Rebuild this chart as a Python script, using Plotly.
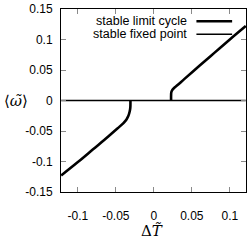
import plotly.graph_objects as go

# Stable limit cycle, left branch
lc_left_x = [-0.122, -0.10, -0.08, -0.06, -0.048, -0.040, -0.036, -0.0335, -0.0318, -0.0310, -0.0308, -0.0308]
lc_left_y = [-0.123, -0.101, -0.080, -0.059, -0.046, -0.037, -0.031, -0.025, -0.018, -0.012, -0.006, 0.0]
# Stable limit cycle, right branch
lc_right_x = [0.0227, 0.0227, 0.0230, 0.0245, 0.0270, 0.0300, 0.040, 0.060, 0.080, 0.100, 0.121]
lc_right_y = [0.0, 0.008, 0.0135, 0.0175, 0.0210, 0.0240, 0.0350, 0.0570, 0.0785, 0.1000, 0.1220]
# Stable fixed point
fp_x = [-0.122, 0.121]
fp_y = [0.0, 0.0]

x_ticks = [-0.1, -0.05, 0, 0.05, 0.1]
x_labels = ["-0.1", "-0.05", "0", "0.05", "0.1"]
y_ticks = [-0.15, -0.1, -0.05, 0, 0.05, 0.1, 0.15]
y_labels = ["-0.15", "-0.1", "-0.05", "0", "0.05", "0.1", "0.15"]

legend_names = ["stable limit cycle", "stable fixed point"]

fig = go.Figure()
fig.add_trace(go.Scatter(x=fp_x, y=fp_y, mode="lines",
                         line=dict(color="black", width=1.5), showlegend=False))
fig.add_trace(go.Scatter(x=lc_left_x, y=lc_left_y, mode="lines", line_shape="spline",
                         line=dict(color="black", width=2.6), showlegend=False))
fig.add_trace(go.Scatter(x=lc_right_x, y=lc_right_y, mode="lines", line_shape="spline",
                         line=dict(color="black", width=2.6), showlegend=False))

axis_common = dict(showgrid=False, zeroline=False, showline=True, linecolor="black",
                   linewidth=1, mirror="allticks", ticks="inside", ticklen=5,
                   tickcolor="#8a8a8a", tickwidth=1,
                   tickfont=dict(family="Liberation Sans, Arial, sans-serif", size=12, color="black"))

fig.update_xaxes(range=[-0.1222, 0.1213], tickvals=x_ticks, ticktext=x_labels,
                 ticklabelstandoff=13, **axis_common)
fig.update_yaxes(range=[-0.15, 0.15], tickvals=y_ticks, ticktext=y_labels,
                 ticklabelstandoff=5, **axis_common)

annotations = [
    dict(text="⟨<i>ω̃</i>⟩", xref="paper", yref="paper", x=-0.245, y=0.5,
         xanchor="center", yanchor="middle", showarrow=False,
         font=dict(family="DejaVu Serif, serif", size=15, color="black")),
    dict(text="Δ<i>T̃</i>", xref="paper", yref="paper", x=0.49, y=-0.211,
         xanchor="center", yanchor="middle", showarrow=False,
         font=dict(family="DejaVu Serif, serif", size=15, color="black")),
    dict(text=legend_names[0], xref="paper", yref="paper", x=0.694, y=0.935,
         xanchor="right", yanchor="middle", showarrow=False,
         font=dict(family="Liberation Sans, Arial, sans-serif", size=12.5, color="black")),
    dict(text=legend_names[1], xref="paper", yref="paper", x=0.694, y=0.864,
         xanchor="right", yanchor="middle", showarrow=False,
         font=dict(family="Liberation Sans, Arial, sans-serif", size=12.5, color="black")),
]
shapes = [
    dict(type="line", xref="paper", yref="paper", x0=0.732, x1=0.925, y0=0.933, y1=0.933,
         line=dict(color="black", width=2.6)),
    dict(type="line", xref="paper", yref="paper", x0=0.732, x1=0.925, y0=0.862, y1=0.862,
         line=dict(color="black", width=1.3)),
]

fig.update_layout(width=249, height=240, margin=dict(l=61, r=2, t=7, b=48, pad=0),
                  plot_bgcolor="white", paper_bgcolor="white",
                  annotations=annotations, shapes=shapes)

fig.write_html("out.html", config={"displayModeBar": False, "staticPlot": True},
               post_script="document.body.style.margin='0';")
